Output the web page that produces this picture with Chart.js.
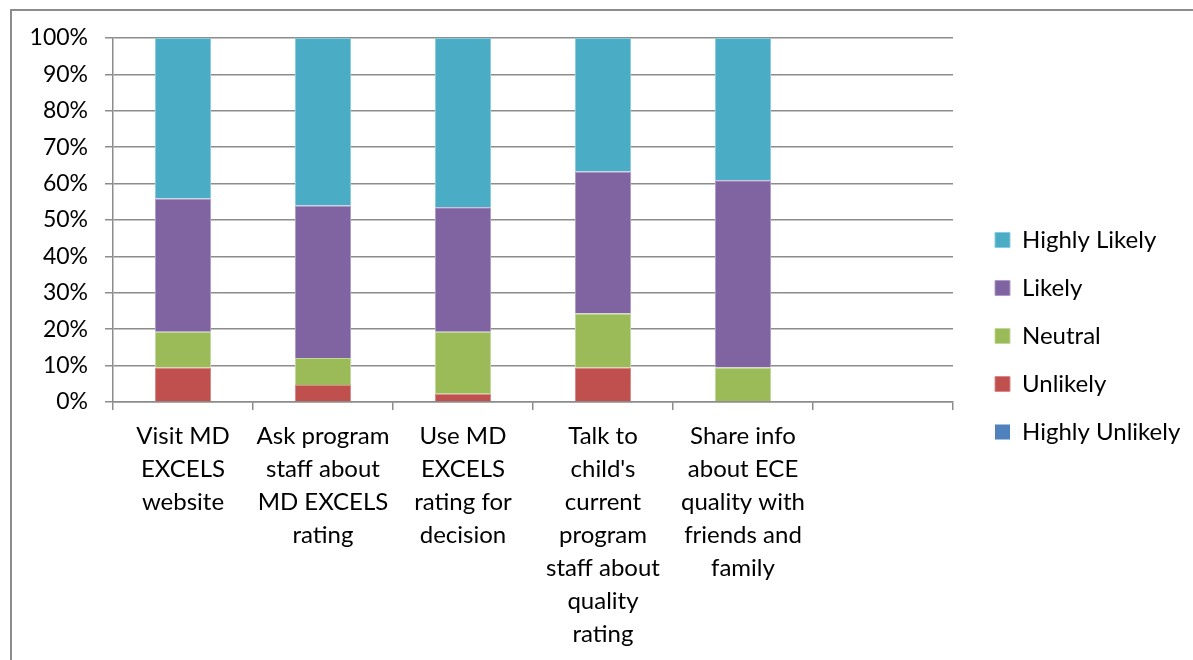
<!DOCTYPE html>
<html>
<head>
<meta charset="utf-8">
<script src="https://cdn.jsdelivr.net/npm/chart.js@4"></script>
<style>
  body { margin: 0; background: #fff; overflow: hidden; }
  #frame {
    position: absolute;
    left: 10px;
    top: 9px;
    width: 1220px;
    height: 700px;
    border: 2px solid #8c8c8c;
    background: #fff;
  }
  #chart { display: block; }
</style>
</head>
<body>
<div id="frame">
  <canvas id="chart" width="1185" height="655"></canvas>
</div>
<script>
// categories (multi-line axis labels), last one is empty
var categories = [
    ["Visit MD", "EXCELS", "website"],
    ["Ask program", "staff about", "MD EXCELS", "rating"],
    ["Use MD", "EXCELS", "rating for", "decision"],
    ["Talk to", "child's", "current", "program", "staff about", "quality", "rating"],
    ["Share info", "about ECE", "quality with", "friends and", "family"],
    ""
];

// percent of respondents, bottom of stack first
var highlyUnlikely = [0, 0, 0, 0, 0, null];
var unlikely       = [9.5, 4.7, 2.3, 9.5, 0, null];
var neutral        = [9.8, 7.4, 17.0, 14.8, 9.5, null];
var likely         = [36.6, 41.9, 34.2, 39.0, 51.4, null];
var highlyLikely   = [44.1, 46.0, 46.5, 36.7, 39.1, null];

var yTicks = [0, 10, 20, 30, 40, 50, 60, 70, 80, 90, 100];

Chart.defaults.font.family = "Lato, 'Open Sans', sans-serif";
Chart.defaults.font.size = 23;
Chart.defaults.color = "#000";

var gridColor = "#8c8c8c";

function series(label, data, color, edge) {
    return {
        label: label,
        data: data,
        backgroundColor: color,
        borderColor: edge,
        borderWidth: edge ? 1 : 0,
        categoryPercentage: 1.0,
        barPercentage: 0.4
    };
}

var ctx = document.getElementById("chart").getContext("2d");

var chart = new Chart(ctx, {
    type: "bar",
    data: {
        labels: categories,
        datasets: [
            series("Highly Unlikely", highlyUnlikely, "#4F81BD", null),
            series("Unlikely", unlikely, "#C0504D", "#D98A88"),
            series("Neutral", neutral, "#9BBB59", "#C0D89A"),
            series("Likely", likely, "#8064A2", "#AE9CC4"),
            series("Highly Likely", highlyLikely, "#4BACC6", "#8ACBDC")
        ]
    },
    options: {
        responsive: false,
        animation: false,
        devicePixelRatio: 1,
        layout: {
            padding: { top: 27, left: 0, right: 11, bottom: 0 }
        },
        plugins: {
            tooltip: { enabled: false },
            legend: {
                position: "right",
                align: "start",
                reverse: true,
                maxWidth: 215,
                title: {
                    display: true,
                    text: "",
                    font: { size: 10, lineHeight: 1 },
                    padding: { top: 0, bottom: 156 }
                },
                labels: {
                    boxWidth: 15,
                    boxHeight: 15,
                    padding: 24,
                    font: { size: 24 },
                    color: "#000"
                }
            }
        },
        scales: {
            x: {
                stacked: true,
                offset: true,
                grid: {
                    offset: true,
                    drawOnChartArea: false,
                    drawTicks: true,
                    tickLength: 8,
                    color: gridColor,
                    lineWidth: 1.5
                },
                border: { color: gridColor, width: 1.5 },
                ticks: {
                    maxRotation: 0,
                    autoSkip: false,
                    padding: 10,
                    font: { size: 24, lineHeight: 1.375 }
                },
                afterFit: function (scale) { scale.height = 264; }
            },
            y: {
                stacked: true,
                min: 0,
                max: 100,
                afterBuildTicks: function (scale) {
                    scale.ticks = yTicks.map(function (v) { return { value: v }; });
                },
                grid: {
                    color: gridColor,
                    lineWidth: 1.5,
                    drawTicks: true,
                    tickLength: 8
                },
                border: { color: gridColor, width: 1.5 },
                ticks: {
                    padding: 17,
                    font: { size: 23, lineHeight: 0.8 },
                    callback: function (v) { return v + "%"; }
                },
                afterFit: function (scale) { scale.width = 101; }
            },
            // empty spacer between plot area and legend
            gap: {
                type: "linear",
                position: "right",
                display: true,
                grid: { display: false },
                border: { display: false },
                ticks: { display: false },
                afterFit: function (scale) { scale.width = 18; }
            }
        }
    }
});
</script>
</body>
</html>
